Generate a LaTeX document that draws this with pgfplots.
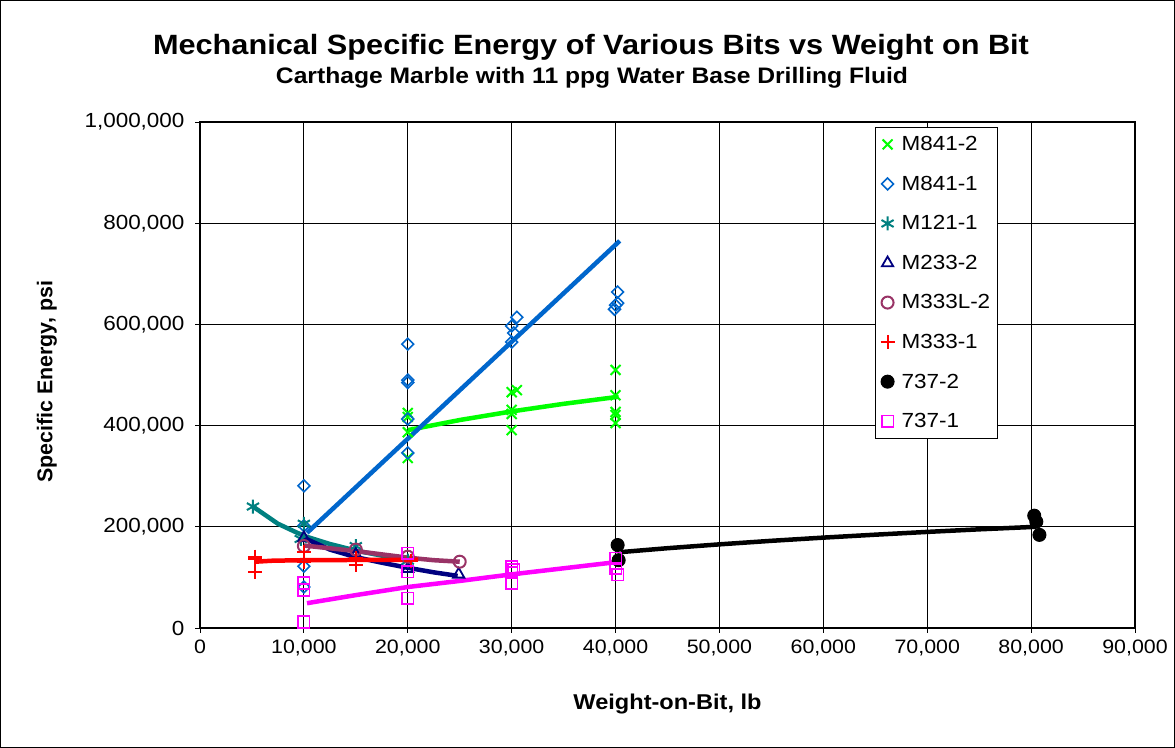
\documentclass[border=0pt]{standalone}
\usepackage{fontspec}
\setmainfont{Liberation Sans}[FakeStretch=1.1]
\newfontfamily\plainfont{Liberation Sans}
\usepackage{pgfplots}
\pgfplotsset{compat=1.18}
\definecolor{cgreen}{RGB}{0,255,0}
\definecolor{cblue}{RGB}{0,102,204}
\definecolor{cteal}{RGB}{0,128,128}
\definecolor{cnavy}{RGB}{0,0,128}
\definecolor{cmauve}{RGB}{153,51,102}
\definecolor{cred}{RGB}{255,0,0}
\definecolor{cmag}{RGB}{255,0,255}
\begin{document}
\begin{tikzpicture}[x=1bp,y=1bp]
\path[use as bounding box] (0,0) rectangle (1175,748);
\draw[line width=1.2bp] (0.6,0.6) rectangle (1174.4,747.4);
\node[font=\bfseries\fontsize{28}{32}\selectfont] at (591,701) {Mechanical Specific Energy of Various Bits vs Weight on Bit};
\node[font=\bfseries\fontsize{22.5}{26}\selectfont] at (592,670) {Carthage Marble with 11 ppg Water Base Drilling Fluid};
\node[rotate=90, font=\plainfont\bfseries\fontsize{21.5}{25}\selectfont] at (47,366) {Specific Energy, psi};
\begin{axis}[
  at={(200bp,120bp)}, anchor=south west, scale only axis,
  width=935bp, height=506bp,
  xmin=0, xmax=90000, ymin=0, ymax=1000000,
  xtick={0,10000,...,90000}, ytick={0,200000,...,1000000},
  xtick pos=lower, ytick pos=left,
  grid=major, major grid style={black, line width=0.8bp},
  axis line style={line width=1.2bp},
  tick align=outside, major tick length=5bp, tick style={black, line width=0.8bp},
  scaled ticks=false,
  /pgf/number format/.cd, fixed, 1000 sep={,}, assume math mode=true, /pgfplots/.cd,
  xticklabel style={font=\fontsize{19.5}{22}\selectfont, yshift=-3bp},
  yticklabel style={font=\fontsize{20.5}{23}\selectfont, xshift=-7bp},
  xlabel={Weight-on-Bit, lb},
  label style={font=\bfseries\fontsize{21.5}{25}\selectfont},
  xlabel style={at={(axis description cs:0.5,-0.150)}, anchor=center},
  legend cell align=left,
  legend style={at={(0.722,0.990)}, anchor=north west, draw=black, line width=1bp, fill=white,
    font=\fontsize{20.5}{24}\selectfont, row sep=19.8bp, column sep=5bp, inner xsep=5bp, inner ysep=7bp},
]
% ---- marks ----
\addplot[only marks, mark=x, cgreen, mark size=7bp, line width=2bp] coordinates {
(20000,425000) (20000,417000) (20000,387000) (20000,336000)
(30000,466000) (30500,470000) (30000,431000) (30000,423000) (30000,391000)
(40000,510000) (40000,460000) (40000,427000) (40000,421000) (40000,405000)};
\addlegendentry{M841-2}
\addplot[only marks, mark=square, mark options={rotate=45}, cblue, mark size=4.2bp, line width=1.6bp] coordinates {
(10000,281000) (10000,202000) (10000,122000) (10000,81000)
(20000,561000) (20000,490000) (20000,485000) (20000,413000) (20000,346000)
(30500,614000) (30000,597000) (30200,583000) (30000,565000)
(40200,664000) (40200,642000) (40000,638000) (39900,630000)};
\addlegendentry{M841-1}
\addplot[only marks, mark=asterisk, cteal, mark size=7bp, line width=2bp] coordinates {
(5100,240000) (10000,206000) (9700,176000) (15000,162000) (20000,133000)};
\addlegendentry{M121-1}
\addplot[only marks, mark=triangle, cnavy, mark size=6.5bp, line width=1.8bp] coordinates {
(10000,178000) (15000,145000) (20000,117000) (24900,106000)};
\addlegendentry{M233-2}
\addplot[only marks, mark=o, cmauve, mark size=6bp, line width=2bp] coordinates {
(10000,162000) (15000,155000) (20000,141000) (25000,131000)};
\addlegendentry{M333L-2}
\addplot[only marks, mark=+, cred, mark size=7bp, line width=2bp] coordinates {
(5300,141000) (5300,137000) (5300,111000) (10000,150000) (10000,131000)
(15000,138000) (15000,125000) (20300,132000)};
\addlegendentry{M333-1}
\addplot[only marks, mark=*, black, mark size=6.5bp, line width=1bp] coordinates {
(40200,164000) (40300,134000) (80300,222000) (80500,210000) (80800,184000)};
\addlegendentry{737-2}
\addplot[only marks, mark=square, cmag, mark size=5.8bp, line width=1.6bp] coordinates {
(10000,89000) (10000,75000) (10000,12000)
(20000,148000) (20000,111000) (20000,59000)
(30000,121000) (30200,115000) (30000,109000) (30000,89000)
(40000,138000) (40000,118000) (40200,105000)};
\addlegendentry{737-1}
% ---- trend lines ----
\addplot[forget plot, cgreen, line width=4.5bp] coordinates {
(20000,391000) (25000,411000) (30000,428000) (35000,443000) (40300,457000)};
\addplot[forget plot, cblue, line width=4.5bp] coordinates {
(10300,188000) (40400,765000)};
\addplot[forget plot, cteal, line width=4.5bp] coordinates {
(5100,240000) (7500,206000) (10000,182000) (12500,166000) (15000,153000) (17500,143000) (20300,134000)};
\addplot[forget plot, cnavy, line width=4.5bp] coordinates {
(10000,178000) (12500,155000) (15000,140000) (17500,129000) (20000,119000) (22500,110000) (24800,103000)};
\addplot[forget plot, cmauve, line width=4.5bp] coordinates {
(10000,163000) (15000,152000) (20000,139000) (22500,134000) (25000,131000)};
\addplot[forget plot, cred, line width=4.5bp] coordinates {
(5300,131000) (7000,133000) (10000,134000) (21000,135000)};
\addplot[forget plot, black, line width=4.5bp] coordinates {
(40500,150000) (45000,157700) (50000,165300) (55000,172300) (60000,178600) (65000,184400) (70000,189900) (75000,195000) (80500,200000)};
\addplot[forget plot, cmag, line width=4.5bp] coordinates {
(10300,49000) (15000,65000) (20000,81000) (25000,93000) (30000,106000) (35000,118000) (40000,130000)};
\end{axis}
\end{tikzpicture}
\end{document}
